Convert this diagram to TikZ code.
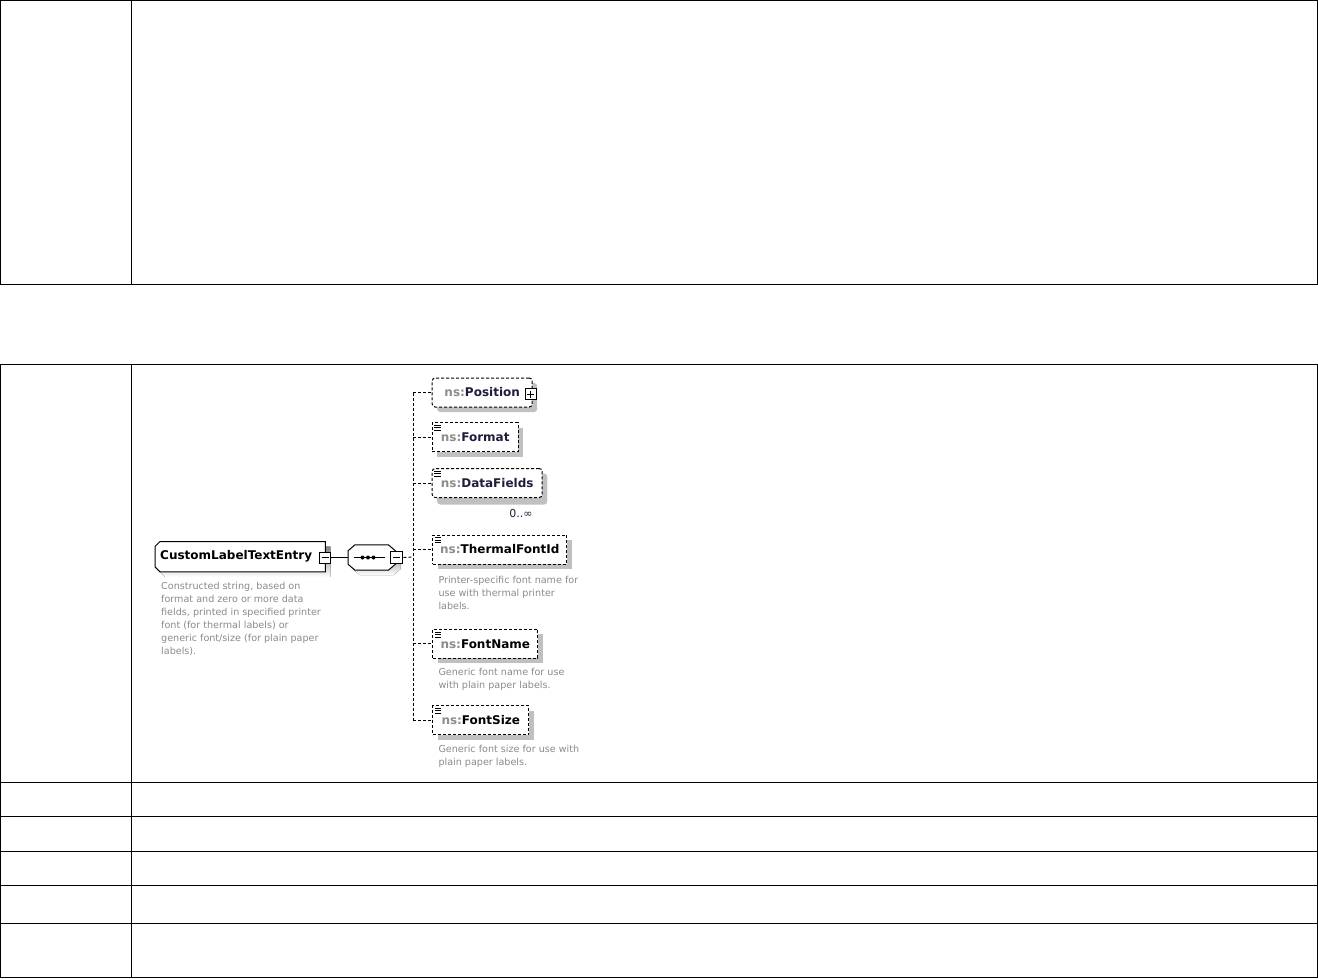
\documentclass[tikz,border=0pt]{standalone}
\usepackage{fontspec}
\setmainfont{DejaVu Sans}
\usetikzlibrary{shadows, positioning, calc, backgrounds}

\definecolor{nsgray}{HTML}{8C8C8C}
\definecolor{namecol}{HTML}{1E1E3C}
\definecolor{docgray}{HTML}{8A8A8A}
\definecolor{shade}{HTML}{C0C0C0}
\newcommand{\nsname}[1]{\textcolor{nsgray}{ns:}#1}

\begin{document}
\begin{tikzpicture}[x=1pt, y=-1pt,
  rule/.style={line width=1pt, black},
  box/.style={draw, fill=white, line width=1pt, minimum height=29pt, inner sep=0pt, anchor=west,
    font=\fontsize{12}{14}\selectfont\bfseries, text=namecol,
    drop shadow={shadow xshift=5pt, shadow yshift=-5pt, fill=shade, opacity=1}},
  opt/.style={box, dash pattern=on 3pt off 2pt},
  cplx/.style={rounded corners=3pt},
  frame/.style={inner sep=0pt, anchor=west, font=\fontsize{12}{14}\selectfont\bfseries},
  outline/.style={draw, fill=white, line width=1pt},
  pm/.style={draw, fill=white, line width=1pt, minimum size=11pt, inner sep=0pt},
  link/.style={line width=0.9pt},
  dlink/.style={link, dash pattern=on 3pt off 2pt},
  doc/.style={font=\fontsize{9.6}{13}\selectfont, text=docgray, align=left, inner sep=0pt},
  card/.style={font=\fontsize{11}{13}\selectfont, text=namecol, inner sep=0pt}
]
\useasboundingbox (0,0) rectangle (1318,978);

% table frames
\draw[rule] (0.5,0.5) rectangle (1317.3,284);
\draw[rule] (131.3,0.5) -- (131.3,284);
\draw[rule] (0.5,364.7) rectangle (1317.3,977.3);
\draw[rule] (131.3,364.7) -- (131.3,977.3);
\foreach \y in {782.3,816.7,851,885.7,923.3}
  \draw[rule] (0.5,\y) -- (1317.3,\y);

% root element and sequence
\node[frame, minimum width=170pt, minimum height=30pt] (root) at (155,556.7)
  {\hspace*{-8pt}CustomLabelTextEntry};
\node[frame, minimum width=47pt, minimum height=25pt] (seq) at (348,557.5) {};
\begin{scope}[on background layer]
  \fill[shade, transform canvas={shift={(5pt,-5pt)}}]
    ($(root.north west)+(5,0)$) -- (root.north east) -- (root.south east)
    -- ($(root.south west)+(5,0)$) -- ($(root.south west)+(0,-5)$)
    -- ($(root.north west)+(0,5)$) -- cycle;
  \path[outline]
    ($(root.north west)+(5,0)$) -- (root.north east) -- (root.south east)
    -- ($(root.south west)+(5,0)$) -- ($(root.south west)+(0,-5)$)
    -- ($(root.north west)+(0,5)$) -- cycle;
  \fill[shade, transform canvas={shift={(5pt,-5pt)}}]
    ($(seq.north west)+(7,0)$) -- ($(seq.north east)+(-7,0)$) -- ($(seq.north east)+(0,6)$)
    -- ($(seq.south east)+(0,-6)$) -- ($(seq.south east)+(-7,0)$) -- ($(seq.south west)+(7,0)$)
    -- ($(seq.south west)+(0,-6)$) -- ($(seq.north west)+(0,6)$) -- cycle;
  \path[outline]
    ($(seq.north west)+(7,0)$) -- ($(seq.north east)+(-7,0)$) -- ($(seq.north east)+(0,6)$)
    -- ($(seq.south east)+(0,-6)$) -- ($(seq.south east)+(-7,0)$) -- ($(seq.south west)+(7,0)$)
    -- ($(seq.south west)+(0,-6)$) -- ($(seq.north west)+(0,6)$) -- cycle;
\end{scope}
\node[pm] (root-minus) at ([yshift=-0.8pt]root.east) {};
\node[pm, minimum size=12pt] (seq-minus) at ([xshift=1.5pt]seq.east) {};
\node[doc, below right=10pt and 6pt of root.south west] (root-doc)
  {Constructed string, based on\\format and zero or more data\\fields, printed in specified printer\\font (for thermal labels) or\\generic font/size (for plain paper\\labels).};

% children
\node[opt, cplx, minimum width=100pt] (pos) at (431.7,392.5) {\nsname{Position}};
\node[opt, minimum width=86pt] (fmt) at (431.7,437) {\nsname{Format}};
\node[opt, cplx, minimum width=110pt,
  drop shadow={shadow xshift=5pt, shadow yshift=-7pt, fill=shade, opacity=1}]
  (data) at (431.7,483) {\nsname{DataFields}};
\node[opt, minimum width=134pt, text=black] (thermal) at (432.3,549.5) {\nsname{ThermalFontId}};
\node[opt, minimum width=105pt, text=black] (fname) at (432.3,643.9) {\nsname{FontName}};
\node[opt, minimum width=96pt, text=black] (fsize) at (432.3,720.2) {\nsname{FontSize}};
\node[pm] (pos-plus) at ([xshift=-2pt, yshift=-1.5pt]pos.east) {};
\node[card, below left=11pt and 10pt of data.south east] (data-card) {0..∞};

\node[doc, below right=11pt and 6pt of thermal.south west] (thermal-doc)
  {Printer-specific font name for\\use with thermal printer\\labels.};
\node[doc, below right=9pt and 6pt of fname.south west] (fname-doc)
  {Generic font name for use\\with plain paper labels.};
\node[doc, below right=10pt and 6pt of fsize.south west] (fsize-doc)
  {Generic font size for use with\\plain paper labels.};

% plus / minus signs and sequence dots
\foreach \n in {root-minus,seq-minus,pos-plus}
  \draw[link] ($(\n.center)+(-3.5,0)$) -- ++(7,0);
\draw[link] ($(pos-plus.center)+(0,-3.5)$) -- ++(0,7);
\draw[link] ([xshift=6pt]seq.west) -- ([xshift=-10pt]seq.east);
\foreach \dx in {14.5,20,25.5}
  \fill ($(seq.west)+(\dx,0)$) circle (2);

% simple content marks
\foreach \n in {fmt,data,thermal,fname,fsize}
  \foreach \dy in {3,5.5,8}
    \draw[line width=0.6pt] ($(\n.north west)+(2.5,\dy)$) -- ++(6.5,0);

% connectors
\coordinate (spine) at (413,557);
\draw[link] (root-minus.east) -- (seq.west);
\draw[dlink] (seq-minus.east) -- (spine);
\draw[dlink] (spine |- pos.west) -- (spine |- fsize.west);
\foreach \n in {pos,fmt,data,thermal,fname,fsize}
  \draw[dlink] (spine |- \n.west) -- (\n.west);
\end{tikzpicture}
\end{document}
